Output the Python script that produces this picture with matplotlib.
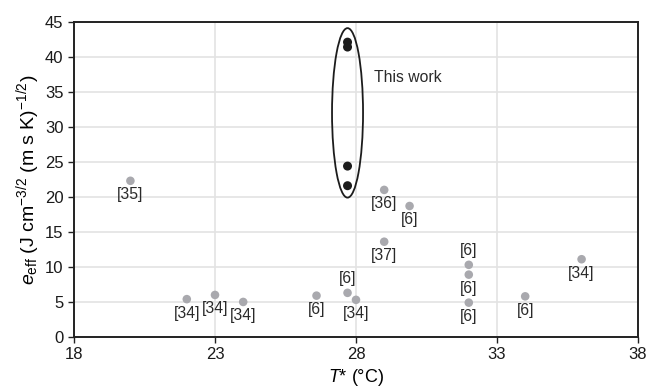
import matplotlib.pyplot as plt
from matplotlib.patches import Ellipse

# Données
t_lit = [20.0, 22.0, 23.0, 24.0, 26.6, 27.7, 28.0, 29.0, 29.9, 29.0, 32.0, 32.0, 32.0, 34.0, 36.0]
e_lit = [22.3, 5.4, 6.0, 5.0, 5.9, 6.3, 5.3, 21.0, 18.7, 13.6, 10.3, 8.9, 4.9, 5.8, 11.1]
refs = ["[35]", "[34]", "[34]", "[34]", "[6]", "[6]", "[34]", "[36]", "[6]", "[37]",
        "[6]", "[6]", "[6]", "[6]", "[34]"]
au_dessus = [5, 10]  # étiquettes placées au-dessus du point

t_work = [27.7, 27.7, 27.7, 27.7]
e_work = [42.1, 41.4, 24.4, 21.6]

x_ticks = [18, 23, 28, 33, 38]
y_ticks = [0, 5, 10, 15, 20, 25, 30, 35, 40, 45]

plt.rcParams['font.family'] = ['Liberation Sans', 'DejaVu Sans']
plt.rcParams['mathtext.fontset'] = 'custom'
plt.rcParams['mathtext.rm'] = 'Liberation Sans'
plt.rcParams['mathtext.it'] = 'Liberation Sans:italic'

fig = plt.figure(figsize=(6.52, 3.9), dpi=100)
ax = fig.add_axes([0.1135, 0.136, 0.865, 0.808])

ax.scatter(t_lit, e_lit, s=38, color='#a9a9ae', edgecolors='none', zorder=3)
ax.scatter(t_work, e_work, s=42, color='#1c1c1c', edgecolors='none', zorder=4)

for i, (x, y, r) in enumerate(zip(t_lit, e_lit, refs)):
    dy = 10 if i in au_dessus else -10
    ax.annotate(r, (x, y), xytext=(0, dy), textcoords='offset points',
                ha='center', va='center', fontsize=11.3, color='#2a2a2a')

ell = Ellipse((27.7, 32.0), 1.1, 24.2, fill=False, edgecolor='#1c1c1c', linewidth=1.3, zorder=5)
ax.add_patch(ell)
ax.text(28.64, 37.0, "This work", fontsize=11.3, color='#2a2a2a', va='center')

ax.set_xlim(18, 38)
ax.set_ylim(0, 45)
ax.set_xticks(x_ticks)
ax.set_yticks(y_ticks)
ax.tick_params(labelsize=12, color='#222222', direction='out', length=4, width=1,
               labelcolor='#1a1a1a')
ax.grid(True, color='#e3e3e3', linewidth=1.2)
ax.set_axisbelow(True)
for s in ax.spines.values():
    s.set_linewidth(1.4)
    s.set_color('#222222')

ax.set_xlabel(r"$T$* (°C)", fontsize=13, labelpad=3.5)
ax.set_ylabel(r"$e_{\rm eff}$ (J cm$^{-3/2}$ (m s K)$^{-1/2}$)", fontsize=14, labelpad=2)

fig.savefig("out.png", dpi=100)
